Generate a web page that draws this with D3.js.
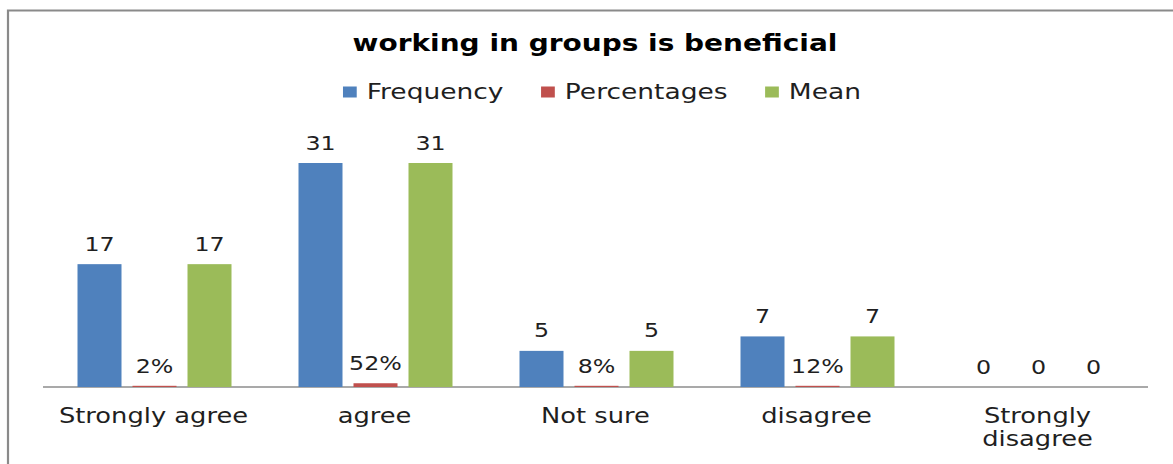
<!DOCTYPE html>
<html>
<head>
<meta charset="utf-8">
<script src="https://cdn.jsdelivr.net/npm/d3@7"></script>
<style>
  html, body { margin: 0; padding: 0; background: #fff; }
  svg { display: block; }
  text { font-family: "DejaVu Sans", Verdana, sans-serif; }
</style>
</head>
<body>
<svg id="chart" width="1173" height="464"></svg>
<script>
// Survey item: "working in groups is beneficial"
const categories = ["Strongly agree", "agree", "Not sure", "disagree", "Strongly disagree"];
const seriesNames = ["Frequency", "Percentages", "Mean"];
const frequency = [17, 31, 5, 7, 0];
const percentages = [0.02, 0.52, 0.08, 0.12, 0];
const mean = [17, 31, 5, 7, 0];
const seriesColors = ["#4F81BD", "#C0504D", "#9BBB59"];
const chartTitle = "working in groups is beneficial";

const seriesValues = [frequency, percentages, mean];
const fmtPct = d3.format(".0%");
const labelFor = (si, v) => (si === 1 && v !== 0) ? fmtPct(v) : String(v);

const W = 1173, H = 464;
const SX = 1.25;               // horizontal stretch applied to all text
const TEXT = "#1f1f1f";
const svg = d3.select("#chart");

svg.append("rect").attr("width", W).attr("height", H).attr("fill", "#fff");

// frame (top and left edges of the chart area)
svg.append("path")
  .attr("d", `M8,${H} V10.5 H${W}`)
  .attr("fill", "none")
  .attr("stroke", "#8a8a8a")
  .attr("stroke-width", 2.2);

const plot = { left: 43, right: 1148, top: 163, bottom: 387 };

const x0 = d3.scaleBand().domain(categories).range([plot.left, plot.right]).padding(0);
const groupW = 165;
const x1 = d3.scaleBand().domain(seriesNames)
  .range([(x0.bandwidth() - groupW) / 2 + 1, (x0.bandwidth() + groupW) / 2 + 1])
  .paddingInner(0.2).paddingOuter(0.1);
const y = d3.scaleLinear().domain([0, 31]).range([plot.bottom, plot.top]);

// stretched text helper: text centred at (cx, cy)
function stretchedText(parent, cx, cy, str, size, opts = {}) {
  const g = parent.append("g").attr("transform", `translate(${cx},${cy}) scale(${SX},1)`);
  return g.append("text")
    .attr("x", 0).attr("y", 0)
    .attr("text-anchor", opts.anchor || "middle")
    .attr("font-size", size)
    .attr("font-weight", opts.weight || "normal")
    .attr("fill", opts.fill || TEXT)
    .text(str);
}

// title
stretchedText(svg, 595, 51, chartTitle, 22.4, { weight: "bold", fill: "#000" });

// legend
const legend = svg.append("g");
let lx = 0;
seriesNames.forEach((name, i) => {
  const item = legend.append("g");
  item.append("rect")
    .attr("x", lx).attr("y", -12).attr("width", 11).attr("height", 11)
    .attr("fill", seriesColors[i]);
  const t = item.append("text")
    .attr("x", lx + 19).attr("y", 0)
    .attr("font-size", 21.2)
    .attr("fill", TEXT)
    .text(name);
  lx += 19 + t.node().getComputedTextLength() + 30;
});
const legendW = (lx - 30) * SX;
legend.attr("transform", `translate(${602 - legendW / 2},98.5) scale(${SX},1)`);

// axis line
svg.append("line")
  .attr("x1", plot.left).attr("x2", plot.right)
  .attr("y1", plot.bottom).attr("y2", plot.bottom)
  .attr("stroke", "#8c8c8c").attr("stroke-width", 1.5);

// bars
const groups = svg.append("g").selectAll("g")
  .data(categories)
  .join("g")
  .attr("transform", d => `translate(${x0(d)},0)`);

groups.each(function (cat, ci) {
  const g = d3.select(this);
  seriesNames.forEach((s, si) => {
    const v = seriesValues[si][ci];
    let h = y(0) - y(v);
    if (v > 0) h = Math.max(h, 1.2);
    if (h > 0) {
      g.append("rect")
        .attr("x", x1(s))
        .attr("y", y(0) - h)
        .attr("width", x1.bandwidth())
        .attr("height", h)
        .attr("fill", seriesColors[si]);
    }
    stretchedText(g, x1(s) + x1.bandwidth() / 2, y(v) - 13.5, labelFor(si, v), 19);
  });
});

// category labels (wrapped when too wide for the band)
categories.forEach(cat => {
  const cx = x0(cat) + x0.bandwidth() / 2;
  const probe = svg.append("text").attr("font-size", 20.6).text(cat);
  const wide = probe.node().getComputedTextLength() * SX > x0.bandwidth() * 0.95;
  probe.remove();
  const lines = wide ? cat.split(" ") : [cat];
  lines.forEach((ln, i) => stretchedText(svg, cx, 423 + i * 23, ln, 20.6));
});
</script>
</body>
</html>
